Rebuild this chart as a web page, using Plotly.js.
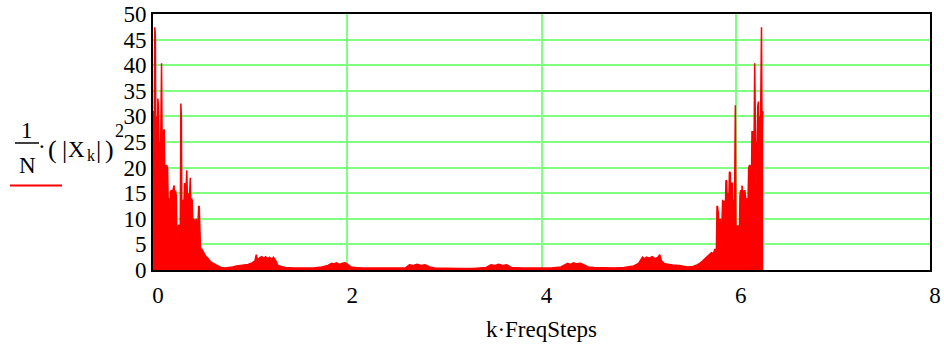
<!DOCTYPE html>
<html><head><meta charset="utf-8">
<script src="https://cdn.plot.ly/plotly-3.0.1.min.js"></script>
<style>html,body{margin:0;padding:0;background:#fff;overflow:hidden;} #chart{width:944px;height:348px;}</style>
</head><body><div id="chart"></div>
<script>
// ---- data (x = k·FreqSteps, y = (1/N)|X_k|^2) ----
// low-frequency cluster
const freqA = [0.000,0.006,0.012,0.018,0.024,0.030,0.036,0.044,0.050,0.056,0.062,0.068,0.074,0.082,0.088,0.094,0.100,0.106,0.116,0.122,
  0.130,0.140,0.150,0.158,0.166,0.172,0.180,0.190,0.196,0.204,0.212,0.218,0.224,0.232,0.240,0.246,0.254,0.266,0.274,0.280,
  0.287,0.292,0.298,0.306,0.312,0.318,0.326,0.332,0.340,0.348,0.354,0.362,0.368,0.376,0.384,0.390,0.398,0.404,0.410,0.418,
  0.428,0.434,0.442,0.448,0.454,0.462,0.470,0.476,0.482];
const powerA = [30.6,31.0,26,47.4,46,24,30,22,33.5,32,24,25,16,30,40.4,26,20,27,27.5,17,
  20.2,20.5,20,12,14,10,15.3,15.6,12,15.5,16.3,16.5,11,15.5,14.5,6,8.5,8.7,8.5,6,
  32.5,30,8,13.7,10,16.5,17,12,19,19.5,14,15,11,17.5,18,12,14,13.5,9,10,
  9.5,4,10,9.8,5,11,12.4,12.5,4];
// middle, low-level part
const freqB = [0.490,0.500,0.510,0.520,0.530,0.545,0.560,0.575,0.590,0.610,0.630,0.650,0.670,0.700,0.740,0.780,0.820,0.860,0.900,0.940,
  0.980,1.020,1.050,1.063,1.075,1.100,1.120,1.140,1.160,1.180,
  1.200,1.220,1.240,1.265,1.285,1.320,1.360,1.450,1.550,1.650,
  1.740,1.800,1.840,1.860,1.890,1.920,1.950,1.980,2.010,2.040,
  2.080,2.150,2.300,2.450,2.600,2.640,2.680,2.720,2.760,2.800,2.850,2.900,3.050,3.150,
  3.300,3.430,3.480,3.520,3.560,3.600,3.640,3.690,3.800,3.950,4.100,
  4.200,4.240,4.270,4.300,4.330,4.360,4.400,4.440,4.480,4.540,4.630,4.750,4.850,4.950,
  5.000,5.020,5.040,5.060,5.080,5.110,5.140,5.170,5.200,5.218,5.235,5.260,5.300,5.350,5.420,5.500,5.560,5.600,5.630,5.660,5.690,5.720,5.750,5.770,5.784];
const powerB = [3.5,4.2,3.8,3.4,3.0,2.6,2.4,2.0,1.7,1.4,1.2,1.0,0.8,0.5,0.4,0.45,0.6,0.8,0.9,1.0,
  1.1,1.4,1.8,3.0,2.0,2.4,2.6,2.3,2.6,2.2,
  2.5,2.0,2.5,1.8,0.9,0.7,0.5,0.4,0.35,0.4,
  0.6,0.9,1.3,1.2,1.4,1.1,1.3,1.4,1.0,0.6,
  0.5,0.4,0.4,0.35,0.4,1.0,0.9,1.1,0.9,1.0,0.6,0.4,0.3,0.3,
  0.3,0.5,1.0,0.9,1.1,0.9,1.0,0.5,0.4,0.4,0.4,
  0.6,1.1,1.3,1.1,1.4,1.2,1.3,1.0,0.6,0.5,0.4,0.4,0.5,0.8,
  1.3,1.8,2.5,2.2,2.5,2.3,2.6,2.2,2.5,3.0,1.8,1.3,1.1,1.0,0.9,0.6,0.7,1.0,1.3,1.8,2.3,2.8,3.4,3.2,4.0];
// high-frequency cluster (near 2π)
const freqC = [5.801,5.807,5.813,5.821,5.829,5.835,5.841,5.849,5.855,5.865,5.873,5.879,5.885,5.893,5.899,5.907,5.915,5.921,5.929,5.935,
  5.943,5.951,5.957,5.965,5.971,5.977,5.985,5.991,5.996,6.003,6.009,6.017,6.029,6.037,6.043,6.051,6.059,6.065,6.071,6.079,
  6.087,6.093,6.103,6.111,6.117,6.125,6.133,6.143,6.153,6.161,6.167,6.177,6.183,6.189,6.195,6.201,6.209,6.215,6.221,6.227,
  6.233,6.239,6.247,6.253,6.259,6.265,6.271,6.277,6.283];
const powerC = [4,12.5,12.4,11,5,9.8,10,4,9.5,13.7,9,13.5,12,12,17.5,17.4,11,15,14,19.2,
  19,12,17,16.9,10,13.7,8,30,32.2,6,8.5,8.7,8.5,6,14.5,15.6,11,16.5,15.3,15.5,
  12,15.6,14,10,14,12,20,20.5,20.2,17,27,27,20,26,40.4,30,16,25,24,32,
  32.9,22,30,24,46,47.4,26,31,30.6];
const xTicks = [0,2,4,6,8];
const yTicks = [0,5,10,15,20,25,30,35,40,45,50];

const freq = freqA.concat(freqB, freqC);
const power = powerA.concat(powerB, powerC);

// ---- layout ----
const L=153, R=930, T=14, B=270, W=944, H=348;
const px = x => (x-L)/(R-L);
const py = y => (B-y)/(B-T);
const serif = 'Liberation Serif';
const ann = (text,x,y,size,extra) => Object.assign({text:text, x:px(x), y:py(y), xref:'paper', yref:'paper',
  showarrow:false, xanchor:'center', yanchor:'middle', font:{family:serif,size:size,color:'#000'}}, extra||{});

const trace = {x:freq, y:power, type:'scatter', mode:'lines', fill:'tozeroy',
  line:{color:'#ff0000', width:1.5}, fillcolor:'#ff0000', hoverinfo:'skip'};

const layout = {
  width:W, height:H, margin:{l:L, r:W-R, t:T, b:H-B, pad:0},
  paper_bgcolor:'#ffffff', plot_bgcolor:'#ffffff', showlegend:false,
  font:{family:serif, color:'#000'},
  xaxis:{range:[0,8], tickvals:xTicks, ticktext:xTicks.map(String), showgrid:true, gridcolor:'#80ff80', gridwidth:2,
    showline:true, mirror:true, linecolor:'#000', linewidth:2, zeroline:false, ticks:'', fixedrange:true,
    tickfont:{family:serif, size:23, color:'#000'}, ticklabelstandoff:3, ticklabelshift:5,
    title:{text:'k·FreqSteps', font:{family:serif, size:23, color:'#000'}, standoff:14}},
  yaxis:{range:[0,50], tickvals:yTicks, ticktext:yTicks.map(String), showgrid:true, gridcolor:'#80ff80', gridwidth:2,
    showline:true, mirror:true, linecolor:'#000', linewidth:2, zeroline:false, ticks:'', fixedrange:true,
    tickfont:{family:serif, size:23, color:'#000'}, ticklabelstandoff:0},
  annotations:[
    ann('1',27,130,23), ann('N',27,165,23), ann('·',42,146,23),
    ann('(',52,149,26), ann('|',64,149,26), ann('X',76.5,149,23), ann('k',91,155,16),
    ann('|',98,149,26), ann(')',109,149,26), ann('2',119,131,18)
  ],
  shapes:[
    {type:'line', xref:'paper', yref:'paper', x0:px(15), x1:px(39), y0:py(143), y1:py(143), line:{color:'#000', width:1.5}},
    {type:'line', xref:'paper', yref:'paper', x0:px(10), x1:px(62), y0:py(185.5), y1:py(185.5), line:{color:'#ff0000', width:2}}
  ]
};
Plotly.newPlot('chart', [trace], layout, {staticPlot:true, displayModeBar:false});
</script></body></html>
